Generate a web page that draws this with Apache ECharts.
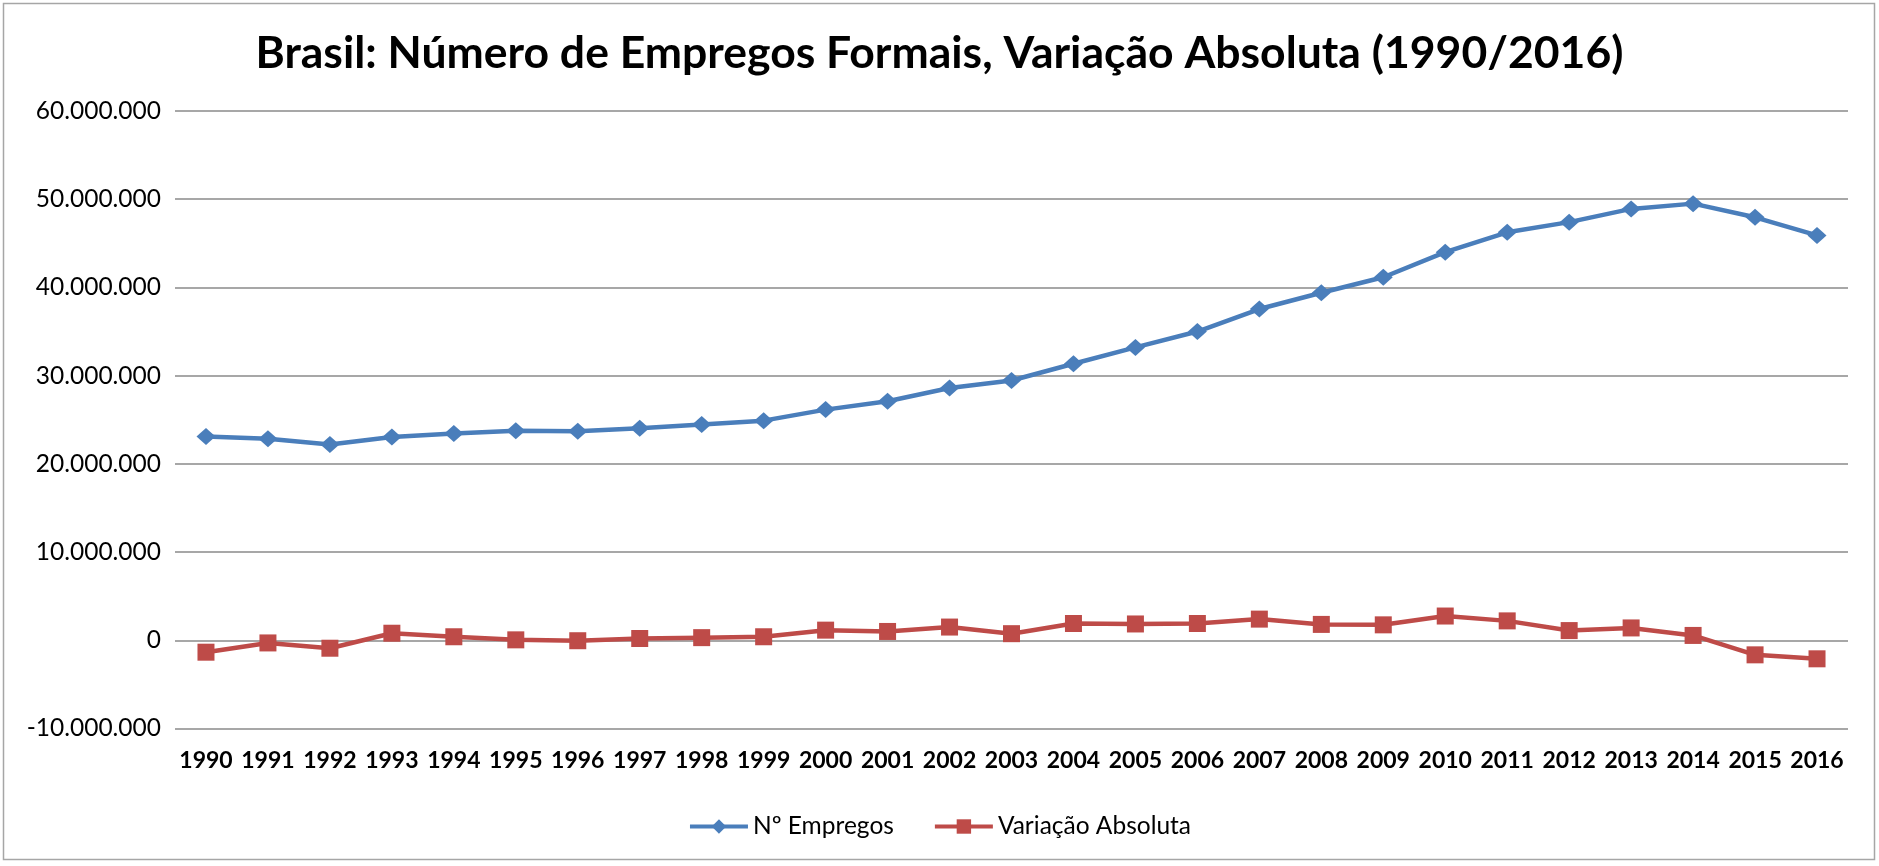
<!DOCTYPE html>
<html>
<head>
<meta charset="utf-8">
<script src="https://cdn.jsdelivr.net/npm/echarts@6/dist/echarts.min.js"></script>
<style>
html,body{margin:0;padding:0;background:#fff;}
#chart{width:1879px;height:866px;}
</style>
</head>
<body>
<div id="chart"></div>
<script>
const titleText = 'Brasil: Número de Empregos Formais, Variação Absoluta (1990/2016)';
const years = ['1990','1991','1992','1993','1994','1995','1996','1997','1998','1999','2000','2001','2002','2003','2004','2005','2006','2007','2008','2009','2010','2011','2012','2013','2014','2015','2016'];
const empregos = [23100000,22850000,22200000,23050000,23450000,23750000,23700000,24050000,24450000,24900000,26150000,27100000,28600000,29450000,31350000,33200000,35000000,37550000,39400000,41150000,44000000,46250000,47400000,48900000,49500000,47950000,45900000];
const variacao = [-1350000,-300000,-900000,800000,400000,50000,-50000,200000,300000,400000,1150000,1000000,1500000,750000,1900000,1850000,1900000,2400000,1800000,1750000,2750000,2200000,1100000,1400000,550000,-1650000,-2100000];
const seriesNames = ['Nº Empregos','Variação Absoluta'];
const yMin = -10000000, yMax = 60000000, yStep = 10000000;

const titleSize = 44.5;
const yLabSize = 24.5;
const xLabSize = 23;
const legSize = 24.5;

function fmt(v){
  const s = Math.abs(v).toString().replace(/\B(?=(\d{3})+(?!\d))/g, '.');
  return (v < 0 ? '-' : '') + s;
}

const chart = echarts.init(document.getElementById('chart'), null, {renderer:'canvas'});
chart.setOption({
  backgroundColor:'#ffffff',
  animation:false,
  title:{
    text:titleText, left:'center', top:54 - titleSize*0.62,
    textStyle:{fontFamily:'Lato', fontWeight:'bold', fontSize:titleSize, color:'#000'}
  },
  legend:{
    data:seriesNames, left:'center', top:818 - 9, itemWidth:58, itemHeight:18, itemGap:39,
    lineStyle:{width:4},
    textStyle:{fontFamily:'Lato', fontSize:legSize, color:'#000'}
  },
  grid:{left:175, right:31, top:111, bottom:137.5, containLabel:false},
  xAxis:{
    type:'category', data:years, boundaryGap:true,
    axisLine:{show:false}, axisTick:{show:false},
    axisLabel:{interval:0, margin:21, fontFamily:'Lato', fontWeight:'bold', fontSize:xLabSize, color:'#000'}
  },
  yAxis:{
    type:'value', min:yMin, max:yMax, interval:yStep,
    axisLine:{show:false}, axisTick:{show:false},
    axisLabel:{margin:14, formatter:fmt, fontFamily:'Lato', fontSize:yLabSize, color:'#000'},
    splitLine:{show:true, lineStyle:{color:'#8a8a8a', width:1.5}}
  },
  graphic:[{type:'rect', shape:{x:3.5,y:3.5,width:1871,height:856}, style:{fill:null, stroke:'#a6a6a6', lineWidth:1.5}, silent:true}],
  series:[
    {name:seriesNames[0], type:'line', data:empregos, symbol:'diamond', symbolSize:[19,17],
     lineStyle:{color:'#4a7ebb', width:4.5}, itemStyle:{color:'#4a7ebb'}},
    {name:seriesNames[1], type:'line', data:variacao, symbol:'rect', symbolSize:17,
     lineStyle:{color:'#be4b48', width:4.5}, itemStyle:{color:'#be4b48'}}
  ]
});
</script>
</body>
</html>
